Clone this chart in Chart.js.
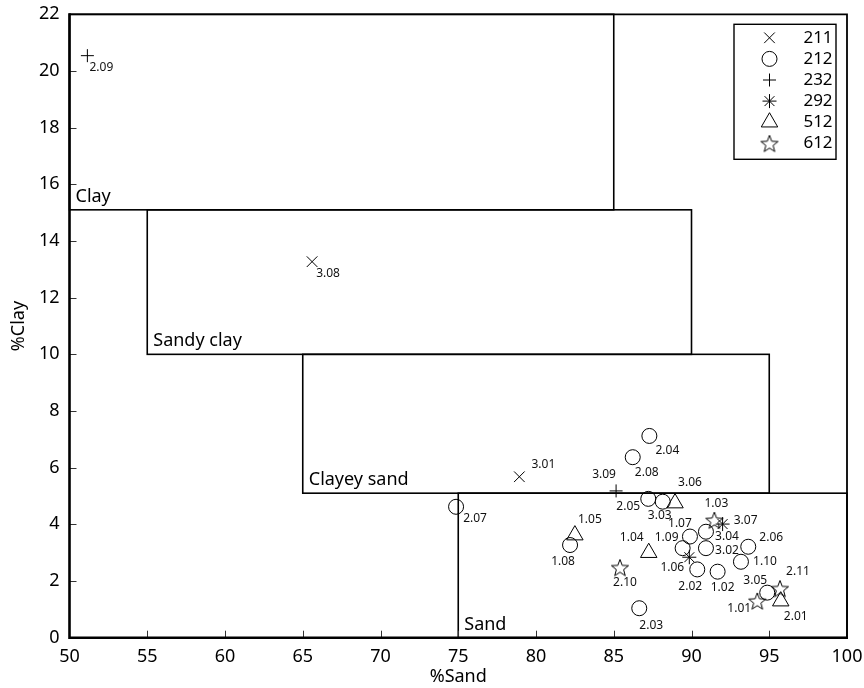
<!DOCTYPE html>
<html><head><meta charset="utf-8">
<script src="https://cdn.jsdelivr.net/npm/chart.js@4.4.0/dist/chart.umd.min.js"></script>
<style>html,body{margin:0;padding:0;background:#fff}#wrap{width:864px;height:688px}</style>
</head><body><div id="wrap"><canvas id="c" width="864" height="688"></canvas></div>
<script>
// ---------- data ----------
const seriesNames = ['211','212','232','292','512','612'];
const sand211 = [65.6, 78.93];
const clay211 = [13.27, 5.68];
const ids211 = ['3.08','3.01'];
const sand212 = [74.86, 87.29, 86.22, 87.22, 88.15, 82.19, 86.64, 89.9, 89.43, 90.93, 90.93, 90.37, 91.68, 93.65, 93.18, 94.87];
const clay212 = [4.62, 7.12, 6.37, 4.9, 4.8, 3.27, 1.04, 3.57, 3.16, 3.74, 3.16, 2.41, 2.33, 3.21, 2.68, 1.59];
const ids212 = ['2.07','2.04','2.08','2.05','3.03','1.08','2.03','1.07','1.09','3.04','3.02','2.02','1.02','2.06','1.10','3.05'];
const sand232 = [51.15, 85.15];
const clay232 = [20.54, 5.18];
const ids232 = ['2.09','3.09'];
const sand292 = [92.0, 89.86];
const clay292 = [4.01, 2.84];
const ids292 = ['3.07','1.06'];
const sand512 = [88.94, 82.5, 87.25, 95.74];
const clay512 = [4.75, 3.62, 3.0, 1.29];
const ids512 = ['3.06','1.05','1.04','2.01'];
const sand612 = [91.47, 85.4, 94.23, 95.69];
const clay612 = [4.15, 2.48, 1.3, 1.74];
const ids612 = ['1.03','2.10','1.01','2.11'];

const regionNames = ['Clay','Sandy clay','Clayey sand','Sand'];
const regionSandMin = [50, 55, 65, 75];
const regionSandMax = [85, 90, 95, 100];
const regionClayMin = [15.1, 10, 5.1, 0];
const regionClayMax = [22, 15.1, 10, 5.1];

const xTitle = '%Sand';
const yTitle = '%Clay';

// ---------- styles ----------
const FONT = "'Noto Sans', 'DejaVu Sans', sans-serif";
const labelOffsets = {
  '3.08':[16,12],'3.01':[24,-12],'2.07':[19,12],'2.04':[18,15],'2.08':[14,15],'2.05':[-20,8],
  '3.03':[-3,14],'1.08':[-7,17],'2.03':[12,17],'1.07':[-10,-13],'1.09':[-16,-11],'3.04':[21,5],
  '3.02':[21,2],'2.02':[-7,17],'1.02':[5,16],'2.06':[23,-9],'1.10':[24,0],'3.05':[-12,-12],
  '2.09':[14,12],'3.09':[-12,-16],'3.07':[23,-3],'1.06':[-17,10],'3.06':[15,-21],'1.05':[15,-16],
  '1.04':[-17,-15],'2.01':[15,15],'1.03':[2,-17],'2.10':[5,15],'1.01':[-18,8],'2.11':[18,-17]
};

function makeStar(r){
  const s = Math.ceil(r*2+4);
  const c = document.createElement('canvas'); c.width = s; c.height = s;
  const g = c.getContext('2d');
  g.strokeStyle = '#000'; g.lineWidth = 1; g.lineJoin = 'miter';
  g.beginPath();
  for (let i=0;i<10;i++){
    const rr = (i%2) ? r*0.42 : r;
    const a = -Math.PI/2 + i*Math.PI/5;
    const x = s/2 + rr*Math.cos(a), y = s/2 + 1 + rr*Math.sin(a);
    if (i) g.lineTo(x,y); else g.moveTo(x,y);
  }
  g.closePath(); g.stroke();
  return c;
}
const starImg = makeStar(9);

const styleOf = {
  '211': {pointStyle:'crossRot', radius:7.5},
  '212': {pointStyle:'circle', radius:7.5},
  '232': {pointStyle:'cross', radius:6.5},
  '292': {pointStyle:'star', radius:7},
  '512': {pointStyle:'triangle', radius:9.5},
  '612': {pointStyle:starImg, radius:9}
};

function zip(xs, ys){ return xs.map((x,i)=>({x:x, y:ys[i]})); }
const seriesX = {'211':sand211,'212':sand212,'232':sand232,'292':sand292,'512':sand512,'612':sand612};
const seriesY = {'211':clay211,'212':clay212,'232':clay232,'292':clay292,'512':clay512,'612':clay612};
const seriesIds = {'211':ids211,'212':ids212,'232':ids232,'292':ids292,'512':ids512,'612':ids612};

const datasets = seriesNames.map(n => ({
  label: n,
  data: zip(seriesX[n], seriesY[n]),
  ids: seriesIds[n],
  pointStyle: styleOf[n].pointStyle,
  pointRadius: styleOf[n].radius,
  pointHoverRadius: styleOf[n].radius,
  borderColor: '#000',
  backgroundColor: 'rgba(0,0,0,0)',
  pointBorderWidth: 1,
  borderWidth: 1,
  showLine: false
}));

// ---------- plugins ----------
const regionsPlugin = {
  id: 'regions',
  beforeDatasetsDraw(chart){
    const {ctx, scales:{x, y}} = chart;
    ctx.save();
    ctx.strokeStyle = '#000'; ctx.lineWidth = 1.6;
    regionNames.forEach((name, i) => {
      const l = x.getPixelForValue(regionSandMin[i]), r = x.getPixelForValue(regionSandMax[i]);
      const t = y.getPixelForValue(regionClayMax[i]), b = y.getPixelForValue(regionClayMin[i]);
      ctx.strokeRect(l, t, r-l, b-t);
    });
    ctx.fillStyle = '#000'; ctx.font = '18px ' + FONT;
    ctx.textAlign = 'left'; ctx.textBaseline = 'alphabetic';
    regionNames.forEach((name, i) => {
      const l = x.getPixelForValue(regionSandMin[i]);
      const b = y.getPixelForValue(regionClayMin[i]);
      ctx.fillText(name, l + 6, b - 8);
    });
    // inward ticks
    ctx.strokeStyle = '#333'; ctx.lineWidth = 1;
    const ca = chart.chartArea;
    x.ticks.forEach(tk => {
      if (tk.value <= x.min || tk.value >= x.max) return;
      const px = Math.round(x.getPixelForValue(tk.value)) + 0.5;
      ctx.beginPath(); ctx.moveTo(px, ca.bottom); ctx.lineTo(px, ca.bottom - 7); ctx.stroke();
    });
    y.ticks.forEach(tk => {
      if (tk.value <= y.min || tk.value >= y.max) return;
      const py = Math.round(y.getPixelForValue(tk.value)) + 0.5;
      ctx.beginPath(); ctx.moveTo(ca.left, py); ctx.lineTo(ca.left + 7, py); ctx.stroke();
    });
    // frame
    ctx.strokeStyle = '#000';
    ctx.lineWidth = 1.8;
    ctx.beginPath(); ctx.moveTo(ca.left, ca.top); ctx.lineTo(ca.right, ca.top); ctx.lineTo(ca.right, ca.bottom); ctx.stroke();
    ctx.lineWidth = 2.6;
    ctx.beginPath(); ctx.moveTo(ca.left, ca.top - 1); ctx.lineTo(ca.left, ca.bottom); ctx.lineTo(ca.right + 1, ca.bottom); ctx.stroke();
    ctx.restore();
  }
};

const labelsPlugin = {
  id: 'ptlabels',
  afterDatasetsDraw(chart){
    const ctx = chart.ctx;
    ctx.save();
    ctx.fillStyle = '#111'; ctx.font = '12px ' + FONT;
    ctx.textAlign = 'center'; ctx.textBaseline = 'middle';
    chart.data.datasets.forEach((ds, di) => {
      const meta = chart.getDatasetMeta(di);
      meta.data.forEach((el, j) => {
        const id = ds.ids[j];
        const off = labelOffsets[id] || [12, 12];
        ctx.fillText(id, el.x + off[0], el.y + off[1]);
      });
    });
    ctx.restore();
  }
};

const legendPlugin = {
  id: 'boxlegend',
  afterDraw(chart){
    const ctx = chart.ctx;
    const ca = chart.chartArea;
    const bx = ca.right - 113, by = ca.top + 10, bw = 102, bh = 135;
    ctx.save();
    ctx.fillStyle = '#fff'; ctx.fillRect(bx, by, bw, bh);
    ctx.strokeStyle = '#000'; ctx.lineWidth = 1.4; ctx.strokeRect(bx, by, bw, bh);
    chart.data.datasets.forEach((ds, i) => {
      const cy = by + 13.5 + i*21.1;
      const cx = bx + 35.5;
      ctx.strokeStyle = '#000'; ctx.fillStyle = 'rgba(0,0,0,0)'; ctx.lineWidth = 1;
      Chart.helpers.drawPoint(ctx, {pointStyle: ds.pointStyle, radius: ds.pointRadius, rotation: 0, borderWidth: 1}, cx, cy);
      ctx.fillStyle = '#000'; ctx.font = '17px ' + FONT;
      ctx.textAlign = 'center'; ctx.textBaseline = 'middle';
      ctx.fillText(ds.label, bx + 84, cy);
    });
    ctx.restore();
  }
};

function zeroPad(s){ s.paddingTop = 0; s.paddingBottom = 0; s.paddingLeft = 0; s.paddingRight = 0; }

new Chart(document.getElementById('c'), {
  type: 'scatter',
  data: { datasets },
  options: {
    responsive: false,
    devicePixelRatio: 1,
    animation: false,
    events: [],
    layout: { padding: { top: 14.3, right: 17, left: 0, bottom: 0 } },
    plugins: { legend: { display: false }, tooltip: { enabled: false } },
    scales: {
      x: {
        type: 'linear', min: 50, max: 100,
        ticks: { stepSize: 5, color: '#000', font: { size: 18, family: FONT }, padding: 8 },
        grid: { display: false, drawTicks: false },
        border: { display: false },
        title: { display: true, text: xTitle, color: '#000', font: { size: 18, family: FONT }, padding: { top: 0, bottom: 0 } },
        afterFit(s){ s.height = 50.3; zeroPad(s); }
      },
      y: {
        type: 'linear', min: 0, max: 22,
        ticks: { stepSize: 2, color: '#000', font: { size: 18, family: FONT }, padding: 10 },
        grid: { display: false, drawTicks: false },
        border: { display: false },
        title: { display: true, text: yTitle, color: '#000', font: { size: 18, family: FONT }, padding: { top: 8, bottom: 0 } },
        afterFit(s){ s.width = 69.5; zeroPad(s); }
      }
    }
  },
  plugins: [regionsPlugin, labelsPlugin, legendPlugin]
});
</script></body></html>
